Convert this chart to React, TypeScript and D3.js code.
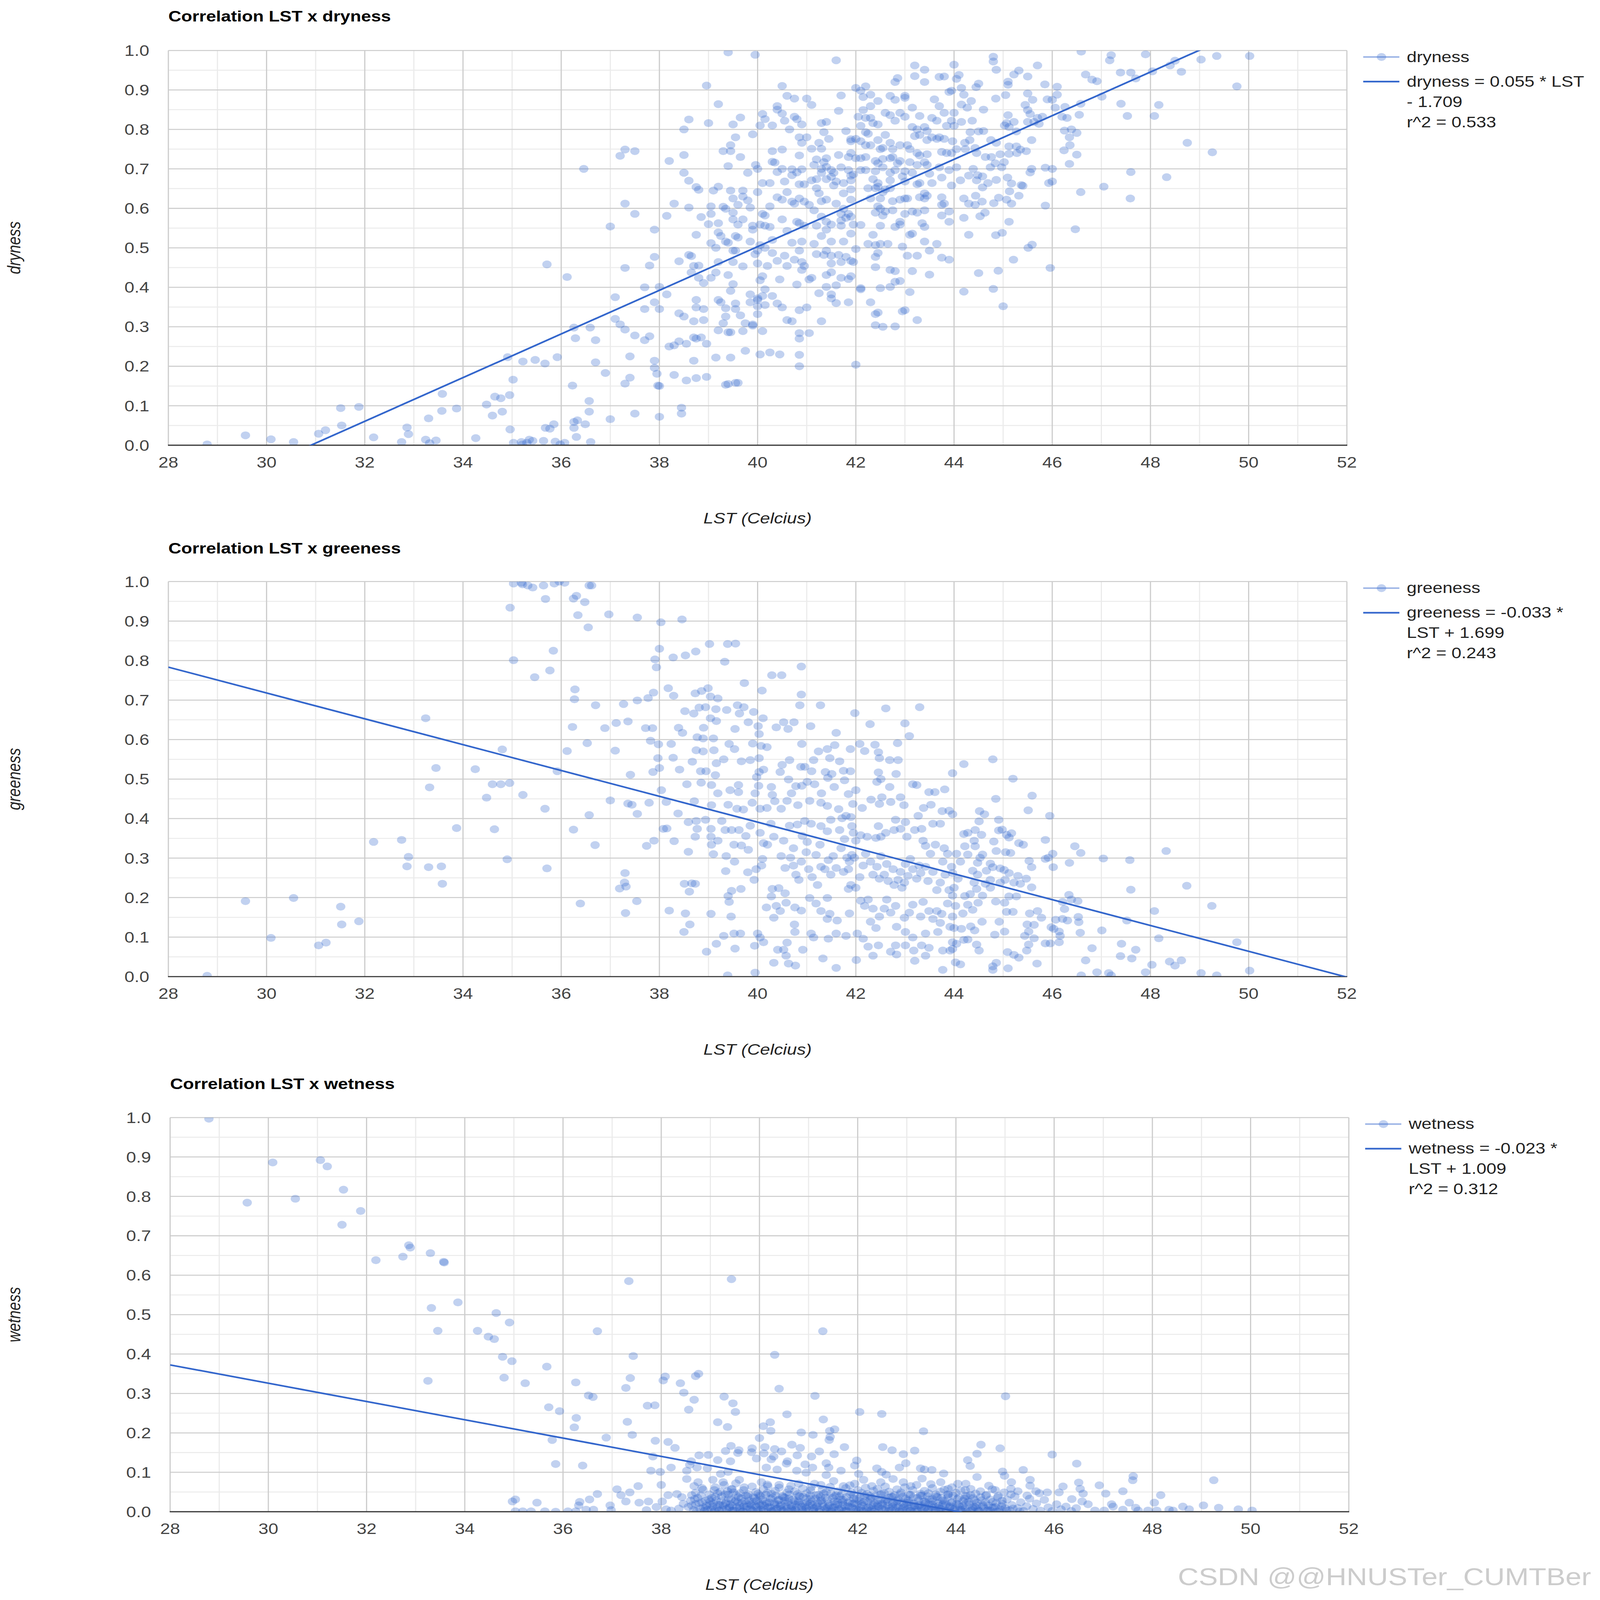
// Three LST correlation scatter charts (dryness / greeness / wetness) with linear trendlines.
import React from "react";
import * as d3 from "d3";

type Pt = [number, number];

// ── Axis ticks ────────────────────────────────────────────────────────────────
const X_TICKS = [28, 30, 32, 34, 36, 38, 40, 42, 44, 46, 48, 50, 52];
const Y_TICKS = [0, 0.1, 0.2, 0.3, 0.4, 0.5, 0.6, 0.7, 0.8, 0.9, 1.0];

// ── Series names, trendline fit (as drawn), legend text ──────────────────────
const SERIES = ["dryness", "greeness", "wetness"];
const TREND_SLOPE = [0.0553, -0.0327, -0.0232];
const TREND_INTERCEPT = [-1.709, 1.699, 1.022];
const LEGEND_TEXT = [
  ["dryness = 0.055 * LST", "- 1.709", "r^2 = 0.533"],
  ["greeness = -0.033 *", "LST + 1.699", "r^2 = 0.243"],
  ["wetness = -0.023 *", "LST + 1.009", "r^2 = 0.312"],
];

// ── dryness points [LST, value] ──────────────────────────────────────────────
const DRYNESS_LOW: Pt[] = [
  [28.79,0.002],[29.57,0.025],[30.09,0.015],[30.55,0.008],[31.06,0.029],[31.2,0.038],[31.51,0.094],[31.88,0.097],
  [31.53,0.05],[32.18,0.02],[32.75,0.008],[32.86,0.045],[32.89,0.028],[33.24,0.014],[33.32,0.005],[33.45,0.012],
  [33.3,0.068],[33.57,0.087],[33.58,0.13],[33.87,0.093],[34.26,0.018],[34.48,0.103],[34.6,0.075],[34.8,0.085],
  [34.65,0.123],[34.77,0.119],[34.95,0.127],[34.91,0.223],[35.02,0.166],[34.96,0.04],[35.03,0.006],[35.19,0.008],
  [35.21,0.002],[35.35,0.014],[35.42,0.011],[35.3,0.006],[35.22,0.212],[35.47,0.216],[35.67,0.207],[35.92,0.223],
  [35.71,0.458],[36.12,0.426],[35.68,0.044],[35.77,0.042],[35.85,0.053],[35.64,0.011],[35.88,0.009],[35.98,0.002],
  [36.07,0.006],[36.23,0.151],[36.26,0.298],[36.29,0.271],[36.26,0.059],[36.33,0.063],[36.26,0.044],[36.31,0.021],
  [36.49,0.053],[36.57,0.112],[36.57,0.085],[36.59,0.298],[36.6,0.008],
  [36.46,0.70],[37.0,0.554],[36.7,0.266],[36.7,0.21],[36.9,0.183],[37.0,0.066],[37.1,0.375],[37.1,0.32],
  [37.2,0.733],[37.3,0.749],[37.5,0.745],[37.3,0.612],[37.5,0.586],[37.3,0.449],[37.8,0.455],[37.9,0.477],
  [37.7,0.40],[37.9,0.546],[37.2,0.306],[37.3,0.293],[37.5,0.278],[37.7,0.266],[37.8,0.276],[37.7,0.345],
  [37.9,0.362],[37.4,0.225],[37.9,0.214],[37.9,0.196],[37.4,0.171],[37.3,0.156],[37.5,0.08],[37.95,0.181],[37.97,0.151],
];
const DRYNESS_MID: Pt[] = [
  [38.2,0.72],[38.5,0.80],[38.6,0.825],[38.5,0.735],[38.5,0.69],[38.6,0.67],[38.75,0.654],[38.8,0.647],[38.3,0.612],
  [38.6,0.602],[38.15,0.581],[38.85,0.578],[38.0,0.401],[38.15,0.382],[38.0,0.345],[38.4,0.466],[38.6,0.482],
  [38.65,0.479],[38.75,0.533],[38.7,0.454],[38.8,0.455],[38.65,0.4375],[38.8,0.424],[38.9,0.411],[38.75,0.368],
  [38.75,0.349],[38.9,0.345],[38.4,0.334],[38.5,0.326],[38.7,0.314],[38.9,0.317],[38.7,0.273],[38.75,0.27],
  [38.85,0.273],[38.96,0.257],[38.2,0.25],[38.3,0.253],[38.4,0.263],[38.55,0.257],[38.7,0.214],[38.3,0.178],
  [38.55,0.164],[38.75,0.17],[38.96,0.173],[38.0,0.15],[38.45,0.095],[38.45,0.08],[38.0,0.072],[38.96,0.911],
  [39.0,0.816],[39.2,0.864],
  [39.4,0.995],[39.95,0.989],[39.5,0.8125],[39.65,0.83],[39.55,0.78],[39.45,0.76],[39.3,0.745],[39.45,0.745],
  [39.65,0.73],[39.4,0.707],[39.9,0.7875],[39.8,0.69],[39.96,0.71],[40.0,0.70],[39.2,0.655],[39.1,0.645],
  [39.45,0.645],[39.7,0.645],[39.7,0.63],[39.5,0.625],[39.8,0.62],[39.05,0.605],[39.3,0.604],[39.35,0.599],
  [39.6,0.609],[39.85,0.602],[39.5,0.589],[39.05,0.586],[39.0,0.56],[39.2,0.5625],[39.5,0.572],[39.7,0.572],
  [39.6,0.559],[39.2,0.539],[39.25,0.53],[39.55,0.53],[39.6,0.526],[39.9,0.556],[39.9,0.546],[39.35,0.516],
  [39.4,0.513],[39.05,0.512],[39.15,0.50],[39.85,0.516],[39.5,0.493],[39.55,0.493],[39.2,0.464],[39.5,0.464],
  [39.7,0.453],[39.4,0.431],[39.5,0.408],[39.05,0.424],[39.15,0.4375],[39.45,0.391],[39.2,0.368],[39.25,0.362],
  [39.55,0.359],[39.55,0.345],[39.35,0.347],[39.35,0.326],[39.65,0.329],[39.75,0.309],[39.9,0.306],[39.85,0.362],
  [40.0,0.372],[39.85,0.382],[39.3,0.309],[39.2,0.291],[39.4,0.286],[39.45,0.286],[39.7,0.289],[39.15,0.222],
  [39.45,0.222],[39.75,0.239],[39.35,0.153],[39.4,0.155],[39.55,0.158],[39.6,0.158],[40.0,0.332],[39.9,0.303],
  [40.5,0.91],[40.6,0.885],[40.75,0.878],[40.4,0.859],[40.4,0.85],[40.5,0.84],[40.1,0.839],[40.15,0.826],
  [40.05,0.81],[40.3,0.81],[40.55,0.822],[40.75,0.832],[40.8,0.826],[40.9,0.8125],[40.65,0.80],[41.0,0.878],
  [41.1,0.862],[40.3,0.745],[40.5,0.749],[40.85,0.78],[40.9,0.766],[41.0,0.78],[40.85,0.734],[40.3,0.718],
  [40.35,0.716],[40.4,0.692],[40.5,0.70],[40.7,0.699],[40.8,0.691],[40.9,0.699],[40.1,0.664],[40.25,0.664],
  [40.55,0.668],[40.7,0.684],[40.85,0.661],[40.95,0.661],[40.0,0.641],[40.25,0.605],[40.4,0.628],[40.5,0.622],
  [40.6,0.641],[40.7,0.617],[40.75,0.612],[40.85,0.625],[40.95,0.617],[40.1,0.586],[40.15,0.582],[40.5,0.572],
  [40.8,0.566],[40.85,0.5625],[40.05,0.559],[40.15,0.556],[40.25,0.553],[40.6,0.543],[40.95,0.556],[40.3,0.52],
  [40.7,0.513],[40.9,0.516],[40.05,0.507],[40.0,0.493],[40.15,0.50],[40.3,0.487],[39.95,0.484],[40.55,0.48],
  [40.85,0.493],[40.0,0.4605],[40.2,0.454],[40.4,0.467],[40.6,0.454],[40.75,0.47],[40.9,0.464],[40.95,0.454],
  [40.9,0.444],[40.1,0.428],[40.45,0.42],[40.05,0.418],[40.15,0.395],[40.3,0.378],[40.1,0.378],[40.0,0.368],
  [40.8,0.407],[41.05,0.42],[40.15,0.355],[40.4,0.359],[40.5,0.349],[40.0,0.352],[40.6,0.317],[40.7,0.314],
  [40.85,0.342],[41.0,0.349],[40.1,0.289],[40.85,0.284],[40.85,0.27],[41.05,0.284],[40.05,0.23],[40.25,0.235],
  [40.45,0.23],[40.85,0.229],[40.85,0.20],
  [41.6,0.975],[41.7,0.886],[41.65,0.847],[42.0,0.905],[42.1,0.898],[42.2,0.909],[41.3,0.816],[41.4,0.819],
  [41.35,0.793],[41.45,0.776],[41.25,0.766],[41.1,0.751],[41.3,0.751],[41.8,0.796],[41.9,0.775],[41.9,0.77],
  [42.0,0.776],[41.65,0.735],[41.9,0.74],[41.85,0.73],[42.0,0.727],[41.2,0.724],[41.35,0.717],[41.4,0.727],
  [41.15,0.71],[41.3,0.70],[41.4,0.705],[41.5,0.697],[41.55,0.69],[41.7,0.704],[41.85,0.697],[41.9,0.683],
  [41.95,0.686],[41.3,0.69],[41.1,0.671],[41.2,0.674],[41.4,0.674],[41.5,0.68],[41.6,0.668],[41.75,0.664],
  [41.9,0.671],[41.2,0.651],[41.25,0.638],[41.4,0.622],[41.3,0.618],[41.05,0.609],[41.15,0.595],[41.55,0.658],
  [41.75,0.638],[41.9,0.648],[41.9,0.622],[41.6,0.612],[41.75,0.599],[41.7,0.586],[41.85,0.586],[41.9,0.579],
  [41.8,0.576],[41.7,0.569],[41.3,0.579],[41.4,0.566],[41.5,0.559],[41.2,0.556],[41.4,0.546],[41.7,0.556],
  [41.95,0.559],[42.1,0.558],[41.3,0.53],[41.5,0.516],[41.75,0.516],[41.9,0.536],[42.0,0.497],[41.15,0.51],
  [41.4,0.493],[41.5,0.48],[41.35,0.482],[41.2,0.484],[41.65,0.482],[41.8,0.477],[41.7,0.464],[41.9,0.467],
  [41.95,0.464],[41.5,0.4605],[41.5,0.438],[41.4,0.431],[41.7,0.424],[41.85,0.421],[41.9,0.428],[41.1,0.424],
  [41.4,0.401],[41.6,0.405],[42.1,0.398],[41.25,0.385],[41.5,0.382],[41.5,0.372],[41.6,0.36],[41.85,0.362],
  [41.3,0.314],[42.0,0.204],
];
const DRYNESS_HIGH: Pt[] = [
  [42.8,0.92],[42.85,0.93],[42.7,0.885],[42.8,0.875],[43.0,0.885],[43.0,0.88],[42.3,0.888],[42.45,0.872],
  [42.15,0.882],[42.3,0.859],[42.15,0.849],[42.05,0.832],[42.2,0.829],[42.3,0.829],[42.35,0.816],[42.45,0.8125],
  [42.6,0.842],[42.7,0.836],[42.8,0.822],[42.9,0.842],[43.0,0.832],[42.1,0.809],[42.2,0.793],[42.25,0.789],
  [42.6,0.786],[42.7,0.766],[42.1,0.77],[42.2,0.76],[42.3,0.76],[42.45,0.773],[42.5,0.75],[42.55,0.753],
  [42.75,0.75],[42.9,0.76],[42.1,0.727],[42.2,0.73],[42.4,0.72],[42.45,0.714],[42.55,0.725],[42.7,0.727],
  [42.75,0.73],[42.85,0.714],[42.9,0.72],[42.1,0.697],[42.2,0.697],[42.4,0.694],[42.55,0.704],[42.7,0.69],
  [42.8,0.697],[43.0,0.694],[42.35,0.674],[42.45,0.664],[42.7,0.671],[42.95,0.681],[43.0,0.668],[42.25,0.651],
  [42.4,0.651],[42.45,0.655],[42.6,0.648],[42.7,0.651],[42.55,0.641],[42.3,0.625],[42.5,0.625],[42.75,0.618],
  [42.9,0.622],[43.0,0.625],[42.45,0.605],[42.5,0.599],[42.6,0.592],[42.75,0.595],[42.4,0.589],[42.55,0.582],
  [43.0,0.586],[42.9,0.566],[42.5,0.556],[42.8,0.553],[42.9,0.559],[42.35,0.533],[42.25,0.51],[42.4,0.507],
  [42.5,0.51],[42.65,0.51],[42.45,0.487],[42.4,0.477],[42.95,0.503],[42.4,0.451],[42.7,0.444],[42.8,0.441],
  [42.8,0.414],[42.5,0.398],[42.7,0.401],[42.1,0.395],[42.3,0.362],[43.0,0.342],[42.45,0.336],[42.4,0.332],
  [42.4,0.304],[42.55,0.30],[42.8,0.301],
  [43.2,0.962],[43.4,0.951],[43.4,0.92],[43.2,0.935],[43.7,0.933],[43.8,0.934],[44.0,0.964],[44.05,0.928],
  [44.1,0.938],[43.6,0.876],[43.7,0.859],[43.15,0.855],[43.3,0.834],[43.9,0.895],[43.95,0.898],[44.15,0.905],
  [43.55,0.829],[43.65,0.822],[43.8,0.842],[43.95,0.822],[43.15,0.806],[43.25,0.80],[43.4,0.806],[43.45,0.796],
  [43.85,0.809],[44.0,0.809],[43.2,0.783],[43.3,0.786],[43.45,0.773],[43.55,0.78],[43.65,0.776],[43.7,0.78],
  [43.8,0.776],[43.05,0.76],[43.1,0.75],[43.25,0.74],[43.3,0.734],[43.45,0.737],[43.75,0.743],[43.85,0.74],
  [43.95,0.74],[44.05,0.75],[43.1,0.717],[43.25,0.71],[43.4,0.717],[43.45,0.71],[43.7,0.704],[43.9,0.697],
  [44.05,0.704],[43.15,0.69],[43.3,0.664],[43.25,0.661],[43.5,0.6875],[43.55,0.664],[43.75,0.678],[43.95,0.658],
  [43.4,0.638],[43.3,0.628],[43.4,0.625],[43.45,0.632],[43.75,0.628],[43.8,0.612],[43.75,0.609],[43.05,0.625],
  [43.15,0.592],[43.25,0.589],[43.4,0.595],[43.9,0.592],[43.75,0.582],[43.9,0.566],[43.35,0.5625],[43.4,0.553],
  [43.15,0.536],[43.1,0.533],[43.4,0.516],[43.65,0.51],[43.5,0.493],[43.25,0.48],[43.05,0.48],[43.75,0.475],
  [43.9,0.47],[43.15,0.441],[43.5,0.432],[43.1,0.388],[42.9,0.416],[42.95,0.339],[43.25,0.317],[44.2,0.389],
  [44.2,0.625],[44.3,0.612],[44.3,0.533],[44.2,0.576],
  [44.8,0.984],[44.8,0.972],[44.86,0.951],[45.7,0.962],[45.32,0.949],[45.22,0.939],[45.5,0.934],[44.5,0.916],
  [44.45,0.907],[45.1,0.921],[45.1,0.913],[45.85,0.914],[46.1,0.908],[44.2,0.888],[44.85,0.878],[45.05,0.887],
  [45.5,0.891],[45.6,0.875],[46.1,0.888],[45.9,0.876],[46.0,0.875],[44.15,0.863],[44.27,0.855],[44.35,0.872],
  [44.6,0.85],[45.45,0.862],[45.5,0.849],[46.06,0.855],[46.26,0.857],[45.55,0.839],[45.1,0.836],[45.7,0.829],
  [45.8,0.832],[46.2,0.832],[46.3,0.829],[46.55,0.837],[44.0,0.842],[44.37,0.822],[44.15,0.819],[45.07,0.816],
  [45.22,0.819],[45.03,0.81],[45.12,0.806],[45.5,0.819],[45.63,0.819],[45.73,0.814],[44.33,0.793],[44.5,0.795],
  [44.6,0.796],[45.27,0.795],[46.25,0.797],[46.39,0.80],[46.5,0.791],[46.35,0.78],[44.75,0.773],[44.22,0.766],
  [44.32,0.773],[45.58,0.773],[43.97,0.77],[44.23,0.75],[44.43,0.753],[44.46,0.74],[44.64,0.73],[44.76,0.73],
  [44.86,0.766],[44.94,0.737],[45.12,0.757],[45.12,0.738],[45.28,0.74],[45.35,0.749],[45.47,0.745],[45.27,0.757],
  [44.39,0.70],[44.48,0.684],[44.58,0.681],[44.74,0.704],[44.84,0.714],[44.97,0.704],[45.02,0.717],[44.3,0.683],
  [44.13,0.671],[44.46,0.671],[44.69,0.664],[44.86,0.672],[45.09,0.678],[45.17,0.663],[45.37,0.659],[45.4,0.657],
  [45.55,0.691],[45.58,0.70],[45.86,0.703],[46.0,0.70],[45.93,0.664],[46.0,0.668],[44.58,0.653],[45.13,0.643],
  [44.43,0.609],[44.44,0.632],[44.57,0.617],[44.81,0.613],[44.91,0.627],[45.07,0.622],[45.17,0.612],[45.32,0.632],
  [44.53,0.58],[44.63,0.589],[45.12,0.566],[45.86,0.607],[44.85,0.532],[44.98,0.538],[45.51,0.50],[45.59,0.508],
  [45.21,0.47],[44.5,0.436],[44.9,0.442],[45.96,0.449],[44.8,0.396],[45.0,0.352],[46.36,0.76],[46.24,0.747],
  [46.5,0.736],[46.35,0.7125],[46.59,0.997],[46.68,0.939],[46.81,0.926],[46.91,0.922],[47.2,0.988],[47.17,0.975],
  [47.39,0.944],[47.6,0.944],[47.7,0.929],[47.9,0.99],[48.04,0.947],[48.4,0.962],[48.5,0.974],[48.63,0.946],
  [49.03,0.977],[49.35,0.986],[50.02,0.986],[49.76,0.909],[47.01,0.883],[47.4,0.865],[47.53,0.834],[48.17,0.862],
  [48.08,0.834],[46.58,0.865],[48.75,0.766],[49.26,0.742],[47.6,0.692],[48.33,0.679],[47.05,0.655],[46.58,0.641],
  [47.59,0.625],[46.47,0.547],
];

// ── greeness points [LST, value] ─────────────────────────────────────────────
const GREENESS_LOW: Pt[] = [
  [28.79,0.002],[29.57,0.191],[30.55,0.199],[30.09,0.098],[31.06,0.079],[31.21,0.086],[31.51,0.177],[31.53,0.132],
  [31.88,0.14],[32.18,0.341],[32.75,0.346],[32.89,0.303],[32.86,0.279],[33.3,0.277],[33.56,0.279],[33.58,0.235],
  [33.24,0.654],[33.45,0.528],[33.32,0.479],[33.87,0.376],[34.25,0.525],[34.48,0.453],[34.6,0.487],[34.77,0.487],
  [34.95,0.49],[34.64,0.373],[34.8,0.575],[34.9,0.297],[35.22,0.46],[35.67,0.425],[35.71,0.274],[36.25,0.372],
  [35.92,0.52],[36.12,0.571],[36.23,0.632],[36.53,0.591],[36.57,0.409],[36.39,0.185],[36.27,0.702],[36.28,0.727],
  [35.46,0.758],[35.77,0.775],[35.03,0.801],[35.84,0.825],[34.96,0.934],[35.03,0.995],[35.19,0.997],[35.21,0.993],
  [35.32,0.99],[35.42,0.985],[35.64,0.99],[35.86,0.995],[35.96,1.0],[36.07,0.997],[35.68,0.956],[36.25,0.957],
  [36.31,0.964],[36.48,0.948],[36.34,0.915],[36.55,0.884],[36.57,0.99],
  [36.62,0.99],[36.97,0.917],[37.55,0.909],[38.03,0.897],[38.46,0.904],[38.0,0.83],[37.91,0.803],[37.94,0.783],
  [38.28,0.808],[38.53,0.813],[38.74,0.823],[39.02,0.842],[39.39,0.842],[39.55,0.843],[39.33,0.797],[39.73,0.743],
  [40.29,0.763],[40.49,0.763],[40.89,0.785],[40.09,0.724],[40.89,0.714],[40.86,0.687],[41.28,0.687],[41.98,0.667],
  [42.61,0.679],[43.3,0.682],[42.29,0.639],[43.0,0.641],[43.09,0.609],
  [36.7,0.687],[37.27,0.69],[37.55,0.699],[37.77,0.705],[37.88,0.719],[38.18,0.73],[38.29,0.711],[38.73,0.717],
  [38.86,0.723],[38.99,0.73],[39.04,0.709],[39.19,0.704],[38.52,0.672],[38.7,0.666],[38.81,0.681],[38.94,0.682],
  [39.15,0.677],[39.37,0.675],[39.59,0.687],[39.72,0.682],[39.92,0.67],[39.63,0.666],[39.04,0.654],[39.16,0.647],
  [40.11,0.654],[39.81,0.644],[40.01,0.634],[40.38,0.631],[40.53,0.644],[40.74,0.644],[40.62,0.627],[41.08,0.634],
  [41.6,0.617],[40.03,0.614],[36.89,0.629],[37.12,0.642],[37.36,0.646],[37.72,0.629],[37.86,0.629],[38.39,0.63],
  [38.47,0.617],[38.9,0.63],[39.54,0.627],
  [37.1,0.572],[37.82,0.597],[37.98,0.588],[38.24,0.589],[38.77,0.606],[38.89,0.603],[39.1,0.603],[38.75,0.573],
  [38.89,0.57],[39.11,0.573],[39.42,0.589],[39.53,0.576],[39.9,0.59],[40.07,0.584],[40.19,0.581],[40.9,0.589],
  [41.24,0.57],[41.42,0.576],[41.57,0.586],[41.89,0.576],[42.08,0.589],[42.18,0.571],[42.39,0.587],[42.46,0.568],
  [42.85,0.591],
];
const GREENESS_MID: Pt[] = [
  [37.97,0.553],[38.28,0.554],[38.67,0.544],[39.16,0.54],[39.31,0.55],[39.67,0.545],[39.85,0.548],[40.03,0.553],
  [40.65,0.548],[41.14,0.548],[41.47,0.553],[41.67,0.545],[42.48,0.553],[42.69,0.548],[42.86,0.548],
  [37.41,0.511],[37.87,0.518],[38.0,0.528],[38.41,0.524],[38.84,0.52],[38.95,0.52],[39.14,0.51],[39.98,0.505],
  [40.03,0.518],[40.12,0.524],[40.5,0.536],[40.46,0.518],[40.88,0.531],[40.96,0.531],[41.1,0.52],[41.38,0.518],
  [41.75,0.521],[41.89,0.52],[42.46,0.517],[42.82,0.513],
  [38.56,0.487],[38.85,0.491],[39.06,0.485],[39.61,0.485],[40.02,0.483],[40.28,0.48],[40.63,0.499],[40.78,0.482],
  [40.9,0.483],[41.01,0.493],[41.16,0.487],[41.43,0.503],[41.51,0.513],[41.77,0.497],[42.43,0.493],[42.51,0.5],
  [42.69,0.48],[43.16,0.487],[43.24,0.485],
  [37.0,0.446],[37.36,0.438],[37.44,0.435],[37.79,0.44],[38.04,0.472],[38.14,0.442],[38.71,0.444],[39.19,0.464],
  [39.44,0.472],[39.61,0.467],[39.95,0.464],[40.3,0.46],[40.69,0.464],[41.3,0.464],[41.56,0.48],[41.85,0.462],
  [42.0,0.472],[42.91,0.454],[43.49,0.467],[43.61,0.467],[43.81,0.474],
  [37.55,0.412],[38.38,0.413],[39.06,0.434],[39.4,0.435],[39.58,0.425],[39.71,0.423],[39.89,0.44],[40.05,0.425],
  [40.19,0.427],[40.35,0.444],[40.48,0.425],[40.6,0.445],[40.82,0.434],[41.06,0.445],[41.29,0.44],[41.42,0.432],
  [41.65,0.424],[41.94,0.437],[42.13,0.427],[42.31,0.448],[42.48,0.437],[42.53,0.454],[42.71,0.442],[42.98,0.434],
  [43.38,0.427],[43.53,0.435],[43.76,0.419],[43.9,0.42],
  [36.69,0.333],[37.74,0.331],[37.89,0.344],[38.08,0.374],[38.15,0.375],[38.3,0.343],[38.59,0.316],[38.59,0.391],
  [38.75,0.394],[38.77,0.374],[38.73,0.354],[38.94,0.397],[39.05,0.374],[39.05,0.354],[39.06,0.334],[39.1,0.31],
  [39.19,0.344],[39.27,0.394],[39.34,0.371],[39.47,0.371],[39.52,0.334],[39.62,0.371],[39.67,0.332],[39.76,0.356],
  [39.81,0.321],[39.36,0.305],[39.53,0.291],[39.35,0.267],[39.85,0.382],[40.05,0.364],[40.12,0.338],[40.2,0.334],
  [40.27,0.387],[40.33,0.354],[40.53,0.344],[40.65,0.382],[40.73,0.325],[40.81,0.385],[40.96,0.394],[40.91,0.356],
  [41.01,0.341],[41.09,0.387],[41.27,0.334],[41.29,0.381],[41.42,0.368],[41.49,0.397],[41.67,0.371],[41.72,0.401],
  [41.8,0.407],[41.9,0.404],[41.92,0.381],[41.95,0.364],[41.77,0.348],[42.0,0.344],[42.1,0.358],[42.23,0.354],
  [42.41,0.351],[42.46,0.381],[42.51,0.354],[42.61,0.364],[42.78,0.371],[42.81,0.397],[42.91,0.374],[43.01,0.391],
  [43.04,0.354],[43.2,0.371],[43.27,0.407],[43.34,0.374],[43.37,0.344],[43.57,0.387],[43.72,0.387],[43.42,0.331],
  [43.62,0.334],[43.8,0.325],[43.87,0.311],
  [38.66,0.236],[38.51,0.235],[38.61,0.215],[38.73,0.235],[37.3,0.262],[37.29,0.238],[37.19,0.223],[37.32,0.228],
  [37.54,0.191],[37.31,0.161],[38.2,0.167],[38.53,0.16],[38.62,0.132],[38.5,0.113],[39.05,0.159],[39.46,0.152],
  [39.42,0.189],[39.4,0.204],[39.47,0.217],[39.66,0.222],[39.8,0.264],[39.93,0.245],[39.97,0.272],[40.08,0.281],
  [40.1,0.298],[40.3,0.222],[40.43,0.224],[40.28,0.203],[40.56,0.211],[40.48,0.305],[40.56,0.275],[40.67,0.301],
  [40.73,0.281],[40.78,0.258],[40.84,0.245],[40.89,0.291],[40.99,0.315],[41.04,0.272],[41.11,0.252],[41.19,0.308],
  [41.22,0.232],[41.29,0.278],[41.37,0.272],[41.44,0.295],[41.49,0.258],[41.54,0.305],[41.6,0.275],[41.7,0.325],
  [41.75,0.265],[41.82,0.301],[41.87,0.291],[41.92,0.308],[41.97,0.301],[41.85,0.272],[41.9,0.232],[41.85,0.222],
  [42.0,0.225],[42.08,0.252],[42.15,0.281],[42.2,0.311],[42.3,0.291],[42.35,0.258],[42.43,0.278],[42.48,0.248],
  [42.51,0.305],[42.58,0.258],[42.63,0.285],[42.66,0.242],[42.76,0.272],[42.78,0.232],[42.86,0.245],[42.91,0.265],
  [42.94,0.225],[42.99,0.238],[43.01,0.285],[43.06,0.255],[43.11,0.298],[43.16,0.272],[43.24,0.248],[43.29,0.281],
  [43.32,0.262],[43.42,0.278],[43.47,0.242],[43.52,0.311],[43.57,0.265],[43.65,0.219],[43.72,0.238],[43.77,0.291],
  [43.82,0.258],[43.9,0.219],[43.95,0.278],
  [40.18,0.175],[40.33,0.149],[40.38,0.179],[40.46,0.166],[40.58,0.187],[40.76,0.175],[40.89,0.167],[40.75,0.132],
  [40.76,0.113],[41.06,0.199],[41.19,0.185],[41.29,0.166],[41.42,0.199],[41.47,0.159],[41.42,0.146],[41.62,0.142],
  [41.87,0.16],[42.1,0.192],[42.18,0.179],[42.25,0.195],[42.3,0.139],[42.35,0.172],[42.41,0.123],[42.48,0.152],
  [42.58,0.172],[42.63,0.195],[42.71,0.162],[42.81,0.179],[42.83,0.126],[42.99,0.149],[43.01,0.113],[43.09,0.162],
  [43.16,0.182],[43.32,0.152],[43.37,0.189],[43.42,0.109],[43.49,0.166],[43.57,0.146],[43.65,0.166],[43.72,0.136],
  [43.75,0.159],[43.67,0.113],[43.87,0.185],[43.92,0.126],
  [39.31,0.103],[39.52,0.109],[39.65,0.109],[39.16,0.083],[38.96,0.063],[39.54,0.071],[40.0,0.109],[40.05,0.099],
  [40.12,0.087],[39.94,0.078],[40.41,0.068],[40.53,0.068],[40.6,0.086],[40.58,0.053],[40.33,0.035],[40.63,0.033],
  [40.77,0.028],[40.92,0.068],[41.09,0.109],[41.14,0.099],[41.33,0.046],[41.44,0.096],[41.6,0.109],[41.8,0.103],
  [41.6,0.022],[42.03,0.109],[42.15,0.096],[42.25,0.076],[42.35,0.053],[42.46,0.079],[42.01,0.042],[42.71,0.063],
  [42.83,0.056],[42.81,0.079],[43.01,0.079],[43.18,0.066],[43.2,0.04],[43.16,0.099],[43.34,0.079],[43.42,0.053],
  [43.49,0.073],[43.77,0.066],[43.92,0.066],[43.77,0.017],[39.39,0.003],[39.95,0.01],
];
const GREENESS_HIGH: Pt[] = [
  [44.79,0.55],[44.2,0.538],[43.97,0.515],[45.2,0.501],[45.59,0.458],[44.85,0.45],[45.51,0.421],[45.95,0.407],
  [44.52,0.419],[44.62,0.411],[43.97,0.411],[44.51,0.393],[44.91,0.397],[44.43,0.371],[44.2,0.361],[44.28,0.364],
  [44.56,0.359],[44.91,0.37],[44.98,0.372],[45.07,0.359],[45.17,0.363],[45.12,0.352],[44.81,0.342],[44.41,0.344],
  [44.43,0.33],[44.22,0.33],[45.32,0.338],[45.41,0.334],[45.86,0.346],[46.46,0.33],[46.58,0.313],[47.04,0.299],
  [47.58,0.295],[48.32,0.318],[44.05,0.311],[44.28,0.309],[44.58,0.309],[44.86,0.318],[45.05,0.315],[45.15,0.313],
  [46.01,0.311],[45.86,0.298],[45.92,0.301],[45.53,0.293],[45.58,0.277],[46.02,0.277],[46.35,0.288],[44.13,0.291],
  [44.48,0.288],[44.53,0.301],[44.74,0.286],[44.79,0.277],[44.94,0.274],[45.02,0.27],[43.97,0.262],[44.38,0.268],
  [44.48,0.258],[44.66,0.268],[45.12,0.262],[45.3,0.255],[45.47,0.248],[44.08,0.248],[44.41,0.238],[44.74,0.245],
  [44.64,0.235],[44.94,0.238],[45.04,0.245],[45.22,0.238],[45.35,0.235],[44.0,0.225],[44.46,0.222],[44.74,0.225],
  [45.58,0.226],[47.6,0.22],[48.74,0.23],[46.34,0.207],[46.21,0.189],[46.39,0.195],[46.52,0.191],[46.25,0.171],
  [49.25,0.179],[43.97,0.205],[44.22,0.204],[44.33,0.209],[44.58,0.205],[45.12,0.203],[45.27,0.203],[44.03,0.179],
  [44.28,0.182],[44.49,0.187],[44.85,0.19],[45.03,0.187],[44.38,0.169],[44.18,0.16],[45.07,0.164],[45.2,0.164],
  [45.54,0.16],[45.7,0.166],[45.78,0.149],[45.63,0.131],[45.49,0.132],[46.07,0.144],[46.21,0.146],[46.31,0.142],
  [46.53,0.151],[46.54,0.138],[48.08,0.166],[47.52,0.142],[43.97,0.152],[44.0,0.123],[44.15,0.121],[44.34,0.127],
  [44.42,0.117],[44.57,0.139],[44.92,0.139],[44.83,0.106],[45.03,0.114],[45.44,0.103],[45.52,0.114],[45.63,0.097],
  [45.98,0.125],[46.03,0.121],[46.14,0.114],[46.16,0.103],[46.57,0.111],[47.01,0.117],[48.17,0.097],[49.76,0.087],
  [43.97,0.087],[44.05,0.083],[44.2,0.093],[44.28,0.094],[44.46,0.081],[44.51,0.066],[43.97,0.07],[45.09,0.062],
  [45.22,0.055],[45.32,0.048],[45.48,0.066],[45.52,0.081],[45.86,0.084],[45.96,0.084],[46.14,0.087],[46.81,0.072],
  [47.41,0.083],[47.7,0.068],[47.39,0.052],[47.62,0.046],[46.68,0.041],[44.03,0.036],[44.13,0.031],[44.79,0.026],
  [44.86,0.035],[44.79,0.017],[45.1,0.021],[45.69,0.033],[46.59,0.003],[46.91,0.011],[47.15,0.009],[47.2,0.003],
  [47.9,0.011],[48.03,0.03],[48.39,0.038],[48.5,0.028],[48.63,0.041],[49.03,0.009],[49.35,0.003],[50.02,0.015],
];

// ── wetness points [LST, value] ──────────────────────────────────────────────
const WETNESS_LOW: Pt[] = [
  [28.79,0.997],[30.09,0.886],[29.57,0.784],[30.55,0.794],[31.06,0.892],[31.2,0.876],[31.53,0.817],[31.5,0.728],
  [31.88,0.763],[32.19,0.638],[32.74,0.647],[32.86,0.676],[32.89,0.67],[33.3,0.656],[33.57,0.634],[33.58,0.632],
  [33.32,0.517],[33.86,0.531],[33.45,0.459],[33.25,0.332],[34.26,0.459],[34.48,0.444],[34.6,0.438],[34.64,0.504],
  [34.91,0.48],[34.77,0.393],[34.96,0.382],[34.8,0.34],[35.23,0.326],[35.67,0.368],[36.26,0.328],[36.52,0.295],
  [35.71,0.265],[35.93,0.255],[36.27,0.238],[36.23,0.214],[35.78,0.182],[35.85,0.121],[36.4,0.117],[34.97,0.026],
  [35.03,0.031],[35.47,0.023],[35.03,0.001],[35.18,0.001],[35.35,0.001],[35.63,0.001],[35.85,0.0],[36.1,0.001],
  [36.26,0.001],[36.34,0.025],[36.54,0.031],[36.32,0.016],
];
const WETNESS_MID: Pt[] = [
  [36.7,0.458],[41.29,0.458],[37.43,0.395],[40.31,0.398],[37.37,0.339],[37.28,0.314],[38.08,0.343],[38.04,0.333],
  [38.39,0.326],[38.7,0.344],[38.76,0.35],[38.46,0.302],[38.67,0.284],[38.56,0.259],[36.61,0.291],[37.72,0.269],
  [37.87,0.27],[39.28,0.292],[39.46,0.275],[39.51,0.253],[40.4,0.312],[41.13,0.294],[40.56,0.247],[37.31,0.228],
  [37.41,0.195],[36.88,0.188],[37.88,0.18],[38.14,0.177],[38.28,0.162],[37.83,0.14],[37.79,0.104],[37.98,0.101],
  [38.2,0.112],[38.0,0.068],[37.53,0.065],[36.7,0.045],[37.1,0.057],[37.18,0.042],[37.36,0.049],[36.96,0.016],
  [37.28,0.026],[36.47,0.005],[36.62,0.005],[36.98,0.004],[37.55,0.023],[37.74,0.026],[38.02,0.026],[38.14,0.042],
  [38.32,0.045],[38.42,0.037],[38.62,0.042],[39.15,0.227],[39.35,0.215],[40.0,0.187],[40.08,0.217],[40.22,0.227],
  [40.23,0.205],[40.85,0.201],[41.09,0.195],[41.3,0.234],[41.43,0.205],[41.53,0.209],[41.44,0.19],[41.42,0.182],
  [41.73,0.164],[42.04,0.253],[42.49,0.248],[43.34,0.204],[42.51,0.164],[42.7,0.156],[42.93,0.146],[43.16,0.155],
  [43.28,0.11],[43.36,0.107],[43.51,0.106],[43.75,0.097],[42.85,0.112],[42.98,0.123],[42.39,0.11],[42.49,0.101],
  [42.58,0.094],[41.98,0.13],[41.94,0.117],[42.02,0.096],[41.66,0.104],[41.41,0.112],[41.36,0.123],[41.36,0.093],
  [41.52,0.146],[41.22,0.153],[41.06,0.14],[41.08,0.112],[40.93,0.12],[40.95,0.099],[40.76,0.104],[40.83,0.162],
  [40.66,0.17],[40.77,0.143],[40.57,0.128],[40.55,0.122],[40.45,0.153],[40.31,0.159],[40.24,0.133],[40.29,0.14],
  [40.11,0.164],[40.09,0.148],[39.94,0.135],[39.85,0.161],[39.84,0.151],[40.14,0.112],[40.36,0.107],[39.56,0.149],
  [39.58,0.156],[39.42,0.167],[39.31,0.154],[39.41,0.128],[39.15,0.131],[38.96,0.144],[38.77,0.143],[38.61,0.128],
  [38.58,0.119],[38.73,0.112],[38.94,0.11],[38.52,0.104],[39.21,0.096],[39.36,0.101],[38.52,0.083],[38.75,0.075],
  [39.05,0.081],[39.26,0.075],[39.59,0.081],[38.67,0.065],[38.83,0.06],[39.08,0.055],[39.43,0.057],[39.69,0.062],
  [40.04,0.075],[40.17,0.065],[40.4,0.068],[40.6,0.057],[40.8,0.071],[41.05,0.062],[41.25,0.068],[41.51,0.078],
  [41.71,0.065],[41.94,0.071],[42.12,0.081],[42.29,0.065],[42.47,0.075],[42.72,0.083],[42.93,0.075],[43.08,0.065],
  [43.31,0.084],[43.49,0.07],[43.69,0.075],[43.84,0.058],[44.04,0.071],[44.19,0.055],[37.34,0.585],[39.43,0.59],
];
const WETNESS_FLOOR: Pt[] = [
  [37.7,0.004],[37.9,0.012],[38.1,0.006],[38.2,0.003],[38.36,0.008],[38.45,0.02],
  [38.55,0.012],[38.6,0.028],[38.66,0.004],[38.7,0.019],[38.74,0.035],[38.79,0.008],[38.83,0.024],[38.88,0.002],
  [38.92,0.015],[38.97,0.031],[39.02,0.006],[39.06,0.021],[39.1,0.038],[39.14,0.011],[39.18,0.003],[39.22,0.027],
  [39.26,0.016],[39.3,0.044],[39.33,0.007],[39.37,0.033],[39.4,0.019],[39.44,0.002],[39.47,0.049],[39.5,0.025],
  [39.54,0.011],[39.57,0.037],[39.61,0.004],[39.64,0.022],[39.68,0.014],[39.72,0.041],[39.75,0.006],[39.79,0.028],
  [39.83,0.017],[39.86,0.002],[39.9,0.034],[39.93,0.012],[39.97,0.046],[39.99,0.021],[40.03,0.005],[40.06,0.031],
  [40.1,0.015],[40.13,0.043],[40.17,0.009],[40.2,0.024],[40.24,0.002],[40.27,0.036],[40.31,0.018],[40.35,0.007],
  [40.38,0.029],[40.42,0.013],[40.46,0.04],[40.49,0.003],[40.53,0.021],[40.56,0.008],[40.6,0.033],[40.64,0.016],
  [40.67,0.002],[40.71,0.027],[40.75,0.011],[40.78,0.045],[40.82,0.019],[40.86,0.005],[40.89,0.038],[40.93,0.014],
  [40.97,0.024],[41.01,0.003],[41.04,0.032],[41.08,0.017],[41.12,0.009],[41.15,0.042],[41.19,0.022],[41.23,0.005],
  [41.26,0.029],[41.3,0.013],[41.34,0.036],[41.37,0.002],[41.41,0.02],[41.45,0.047],[41.48,0.01],[41.52,0.026],
  [41.56,0.004],[41.59,0.018],[41.63,0.039],[41.67,0.008],[41.7,0.03],[41.74,0.014],[41.78,0.002],[41.81,0.023],
  [41.85,0.044],[41.88,0.011],[41.92,0.033],[41.96,0.006],[41.99,0.019],[42.03,0.028],[42.07,0.003],[42.1,0.015],
  [42.14,0.041],[42.18,0.009],[42.21,0.025],[42.25,0.002],[42.29,0.035],[42.32,0.017],[42.36,0.006],[42.4,0.029],
  [42.43,0.012],[42.47,0.043],[42.5,0.021],[42.54,0.004],[42.58,0.031],[42.61,0.016],[42.65,0.008],[42.69,0.038],
  [42.72,0.022],[42.76,0.002],[42.8,0.027],[42.83,0.012],[42.87,0.045],[42.91,0.006],[42.94,0.019],[42.98,0.033],
  [43.02,0.009],[43.05,0.024],[43.09,0.002],[43.13,0.036],[43.16,0.014],[43.2,0.005],[43.24,0.028],[43.27,0.017],
  [43.31,0.041],[43.35,0.008],[43.38,0.022],[43.42,0.003],[43.46,0.031],[43.5,0.012],[43.54,0.026],[43.58,0.004],
  [43.62,0.037],[43.65,0.015],[43.69,0.007],[43.73,0.029],[43.77,0.002],[43.8,0.019],[43.84,0.043],[43.88,0.01],
  [43.92,0.024],[43.96,0.005],[44.03,0.032],[44.07,0.013],[44.11,0.002],[44.15,0.027],[44.19,0.008],[44.23,0.04],
  [44.27,0.018],[44.31,0.004],[44.35,0.034],[44.39,0.011],[44.43,0.023],[44.47,0.002],[44.52,0.029],[44.57,0.009],
  [44.61,0.041],[44.66,0.016],[44.7,0.003],[44.75,0.025],[44.8,0.012],[44.85,0.036],[44.9,0.006],[44.95,0.02],
  [45.04,0.031],[45.09,0.004],[45.14,0.017],[45.2,0.039],[45.26,0.009],[45.32,0.024],[45.38,0.002],[45.44,0.014],
  [45.5,0.033],[45.57,0.007],[45.64,0.021],[45.72,0.003],[45.8,0.03],[45.88,0.011],[45.96,0.002],[46.05,0.019],
  [46.14,0.006],[46.24,0.013],[46.35,0.002],[46.45,0.009],
];
const WETNESS_FLOOR_DENSE: Pt[] = [
  [38.9,0.009],[39.0,0.026],[39.08,0.001],[39.16,0.018],[39.24,0.007],[39.32,0.024],[39.39,0.012],[39.46,0.003],
  [39.52,0.029],[39.59,0.015],[39.66,0.001],[39.73,0.02],[39.81,0.008],[39.88,0.026],[39.95,0.004],[40.01,0.016],
  [40.08,0.001],[40.15,0.022],[40.22,0.011],[40.29,0.003],[40.36,0.019],[40.44,0.006],[40.51,0.028],[40.58,0.002],
  [40.66,0.013],[40.73,0.005],[40.8,0.024],[40.88,0.001],[40.95,0.009],[41.03,0.021],[41.1,0.002],[41.17,0.014],
  [41.25,0.027],[41.32,0.004],[41.39,0.011],[41.47,0.001],[41.54,0.019],[41.61,0.007],[41.69,0.025],[41.76,0.002],
  [41.83,0.012],[41.9,0.021],[41.97,0.001],[42.05,0.01],[42.12,0.024],[42.19,0.004],[42.27,0.015],[42.34,0.001],
  [42.41,0.02],[42.49,0.008],[42.56,0.027],[42.63,0.002],[42.71,0.012],[42.78,0.018],[42.85,0.001],[42.93,0.01],
  [43.0,0.023],[43.07,0.003],[43.15,0.016],[43.22,0.001],[43.29,0.011],[43.37,0.026],[43.44,0.005],[43.52,0.018],
  [43.59,0.001],[43.66,0.009],[43.74,0.021],[43.81,0.003],[43.89,0.014],[43.97,0.001],[44.05,0.018],[44.13,0.006],
  [44.21,0.022],[44.29,0.001],[44.37,0.013],[44.45,0.004],[44.55,0.017],[44.64,0.002],[44.73,0.011],[44.83,0.001],
  [44.93,0.014],[45.03,0.003],[45.16,0.008],[45.3,0.001],
];
const WETNESS_FLOOR_CORE: Pt[] = [
  [38.62,0.016],[38.68,0.032],[38.72,0.001],[38.77,0.022],[38.81,0.041],[38.86,0.011],[38.9,0.028],[38.95,0.005],
  [38.99,0.018],[39.03,0.035],[39.05,0.013],[39.09,0.002],[39.12,0.029],[39.15,0.047],[39.19,0.017],[39.23,0.039],
  [39.27,0.004],[39.31,0.021],[39.35,0.052],[39.38,0.01],[39.42,0.031],[39.45,0.015],[39.49,0.003],[39.53,0.042],
  [39.56,0.024],[39.6,0.009],[39.63,0.034],[39.67,0.001],[39.7,0.027],[39.74,0.013],[39.77,0.045],[39.81,0.02],
  [39.84,0.005],[39.88,0.037],[39.91,0.016],[39.95,0.028],[39.98,0.002],[40.02,0.039],[40.05,0.019],[40.09,0.006],
  [40.12,0.026],[40.16,0.048],[40.19,0.012],[40.23,0.033],[40.26,0.001],[40.3,0.022],[40.33,0.041],[40.37,0.009],
  [40.4,0.03],[40.44,0.017],[40.47,0.002],[40.51,0.036],[40.54,0.014],[40.58,0.025],[40.61,0.044],[40.65,0.007],
  [40.68,0.031],[40.72,0.018],[40.75,0.001],[40.79,0.027],[40.82,0.039],[40.86,0.012],[40.89,0.021],[40.93,0.004],
  [40.96,0.034],[41.0,0.015],[41.03,0.042],[41.07,0.026],[41.1,0.007],[41.14,0.033],[41.17,0.012],[41.21,0.001],
  [41.24,0.038],[41.28,0.02],[41.31,0.046],[41.35,0.009],[41.38,0.029],[41.42,0.016],[41.45,0.002],[41.49,0.035],
  [41.52,0.011],[41.56,0.041],[41.59,0.024],[41.63,0.005],[41.66,0.031],[41.7,0.018],[41.73,0.001],[41.77,0.037],
  [41.8,0.014],[41.84,0.027],[41.87,0.049],[41.91,0.008],[41.94,0.022],[41.98,0.032],[42.01,0.004],[42.05,0.037],
  [42.08,0.019],[42.12,0.001],[42.15,0.028],[42.19,0.045],[42.22,0.011],[42.26,0.033],[42.29,0.006],[42.33,0.022],
  [42.36,0.04],[42.4,0.014],[42.43,0.002],[42.47,0.03],[42.5,0.017],[42.54,0.047],[42.57,0.008],[42.61,0.025],
  [42.64,0.036],[42.68,0.003],[42.71,0.019],[42.75,0.042],[42.78,0.011],[42.82,0.031],[42.85,0.001],[42.89,0.024],
  [42.92,0.038],[42.96,0.014],[43.0,0.005],[43.03,0.029],[43.07,0.043],[43.1,0.012],[43.14,0.021],[43.17,0.001],
  [43.21,0.035],[43.24,0.016],[43.28,0.046],[43.31,0.007],[43.35,0.026],[43.38,0.011],[43.42,0.039],[43.45,0.019],
  [43.49,0.002],[43.52,0.032],[43.56,0.013],[43.59,0.044],[43.63,0.022],[43.66,0.004],[43.7,0.035],[43.73,0.017],
  [43.77,0.027],[43.8,0.001],[43.84,0.038],[43.87,0.012],[43.91,0.023],[43.94,0.041],[43.98,0.007],[44.02,0.02],
  [44.06,0.036],[44.1,0.005],[44.14,0.015],[44.18,0.033],[44.22,0.001],[44.26,0.025],[44.3,0.042],[44.34,0.009],
  [44.38,0.029],[44.42,0.016],[44.46,0.001],[44.5,0.037],[44.55,0.013],[44.6,0.024],[44.65,0.004],[44.7,0.031],
  [44.76,0.011],[44.82,0.022],[44.88,0.002],[44.94,0.028],[45.0,0.009],
];
const WETNESS_FLOOR_UPPER: Pt[] = [
  [38.7,0.048],[38.85,0.056],[38.98,0.044],[39.1,0.062],[39.2,0.051],[39.28,0.068],[39.36,0.043],[39.44,0.058],
  [39.52,0.072],[39.6,0.047],[39.68,0.055],[39.76,0.039],[39.85,0.064],[39.93,0.05],[40.0,0.041],[40.08,0.057],
  [40.16,0.069],[40.24,0.046],[40.32,0.053],[40.4,0.061],[40.48,0.038],[40.56,0.049],[40.64,0.066],[40.72,0.052],
  [40.8,0.04],[40.88,0.059],[40.96,0.047],[41.04,0.054],[41.12,0.071],[41.2,0.043],[41.28,0.056],[41.36,0.05],
  [41.44,0.063],[41.52,0.039],[41.6,0.052],[41.68,0.045],[41.76,0.06],[41.84,0.067],[41.92,0.042],[42.0,0.055],
  [42.08,0.048],[42.16,0.061],[42.24,0.04],[42.32,0.053],[42.4,0.058],[42.48,0.046],[42.56,0.064],[42.64,0.051],
  [42.72,0.038],[42.8,0.057],[42.88,0.049],[42.96,0.062],[43.04,0.044],[43.12,0.055],[43.2,0.068],[43.28,0.041],
  [43.36,0.053],[43.44,0.047],[43.52,0.06],[43.6,0.039],[43.68,0.051],[43.76,0.056],[43.84,0.045],[43.92,0.062],
  [44.0,0.048],[44.1,0.054],[44.2,0.04],[44.3,0.058],[44.4,0.046],[44.5,0.052],[44.62,0.043],[44.74,0.057],
  [44.86,0.04],[44.98,0.049],[45.12,0.044],[45.26,0.052],[45.45,0.041],[45.7,0.047],
];
const WETNESS_HIGH: Pt[] = [
  [45.01,0.293],[44.51,0.17],[44.9,0.161],[44.43,0.147],[44.24,0.131],[44.29,0.116],[45.96,0.145],[46.46,0.122],
  [44.95,0.102],[45.37,0.106],[44.43,0.088],[44.99,0.091],[45.13,0.075],[45.51,0.081],[45.51,0.066],[47.61,0.09],
  [47.6,0.08],[49.25,0.08],[44.2,0.071],[44.67,0.066],[44.8,0.055],[45.12,0.058],[45.63,0.052],[45.86,0.049],
  [46.18,0.064],[46.1,0.049],[46.5,0.074],[46.53,0.058],[46.59,0.046],[46.92,0.067],[47.05,0.046],[47.4,0.052],
  [48.17,0.042],[46.36,0.032],[46.57,0.026],[46.69,0.019],[47.17,0.019],[47.53,0.023],[47.66,0.01],[48.04,0.023],
  [48.62,0.013],[49.04,0.016],[49.35,0.01],[49.75,0.006],[50.03,0.003],[46.83,0.003],[47.02,0.003],[47.4,0.005],
  [47.71,0.003],[47.91,0.003],[48.09,0.003],[48.34,0.005],[48.42,0.003],[48.75,0.006],[47.2,0.013],
];

const SERIES_POINTS: Pt[][] = [
  [...DRYNESS_LOW, ...DRYNESS_MID, ...DRYNESS_HIGH],
  [...GREENESS_LOW, ...GREENESS_MID, ...GREENESS_HIGH],
  [
    ...WETNESS_LOW, ...WETNESS_MID, ...WETNESS_FLOOR, ...WETNESS_FLOOR_DENSE,
    ...WETNESS_FLOOR_CORE, ...WETNESS_FLOOR_UPPER, ...WETNESS_HIGH,
  ],
];

// ── Layout (drawing units of the 4115 x 4875 page) ───────────────────────────
const W = 4115;
const H = 4875;
const FONT = "'Liberation Sans', Arial, Helvetica, sans-serif";
const FS = 46;
const BLUE = "#3366cc";

const PANELS = [
  { x0: 433, x1: 3464, yTop: 153.7, yBot: 1356.5, titleY: 66, dx: 0 },
  { x0: 433, x1: 3464, yTop: 1772, yBot: 2975.6, titleY: 1686, dx: 0 },
  { x0: 437.5, x1: 3469, yTop: 3405, yBot: 4606, titleY: 3318, dx: 5 },
];

function Panel({ idx }: { idx: number }) {
  const L = PANELS[idx];
  const name = SERIES[idx];
  const pts = SERIES_POINTS[idx];

  const x = d3.scaleLinear().domain([28, 52]).range([L.x0, L.x1]);
  const y = d3.scaleLinear().domain([0, 1]).range([L.yBot, L.yTop]);

  const minorX = x.ticks(24).filter((v) => !X_TICKS.includes(v));
  const minorY = y.ticks(20).filter((v) => Math.round(v * 100) % 10 !== 0);

  const f = (t: number) => TREND_SLOPE[idx] * t + TREND_INTERCEPT[idx];
  const trend = d3
    .line<number>()
    .x((t) => x(t))
    .y((t) => y(f(t)))([28, 52]);

  const clipId = `plot-clip-${idx}`;
  const lx = 3506 + L.dx;

  return (
    <g>
      <defs>
        <clipPath id={clipId}>
          <rect x={L.x0} y={L.yTop} width={L.x1 - L.x0} height={L.yBot - L.yTop} />
        </clipPath>
      </defs>

      {/* Title */}
      <text x={L.x0} y={L.titleY} fontFamily={FONT} fontSize={FS} fontWeight="bold" fill="#000">
        {`Correlation LST x ${name}`}
      </text>

      {/* Minor grid */}
      {minorX.map((v) => (
        <line key={`mx${v}`} x1={x(v)} x2={x(v)} y1={L.yTop} y2={L.yBot} stroke="#ebebeb" strokeWidth={3} />
      ))}
      {minorY.map((v) => (
        <line key={`my${v}`} x1={L.x0} x2={L.x1} y1={y(v)} y2={y(v)} stroke="#ebebeb" strokeWidth={3} />
      ))}

      {/* Major grid */}
      {X_TICKS.map((v) => (
        <line key={`gx${v}`} x1={x(v)} x2={x(v)} y1={L.yTop} y2={L.yBot} stroke="#cccccc" strokeWidth={3} />
      ))}
      {Y_TICKS.filter((v) => v > 0).map((v) => (
        <line key={`gy${v}`} x1={L.x0} x2={L.x1} y1={y(v)} y2={y(v)} stroke="#cccccc" strokeWidth={3} />
      ))}

      {/* Points */}
      <g clipPath={`url(#${clipId})`}>
        {pts.map(([t, v], i) => (
          <circle key={i} cx={x(t)} cy={y(v)} r={12} fill={BLUE} fillOpacity={0.3} />
        ))}
      </g>

      {/* Baseline */}
      <line x1={L.x0 - 1} x2={L.x1 + 1} y1={y(0)} y2={y(0)} stroke="#333333" strokeWidth={3.5} />

      {/* Trendline */}
      <path d={trend ?? ""} clipPath={`url(#${clipId})`} fill="none" stroke={BLUE} strokeWidth={5} />

      {/* Tick labels */}
      {X_TICKS.map((v) => (
        <text key={`tx${v}`} x={x(v)} y={L.yBot + 68} textAnchor="middle" fontFamily={FONT} fontSize={FS} fill="#444">
          {v}
        </text>
      ))}
      {Y_TICKS.map((v) => (
        <text key={`ty${v}`} x={L.x0 - 49} y={y(v) + 16.5} textAnchor="end" fontFamily={FONT} fontSize={FS} fill="#444">
          {v.toFixed(1)}
        </text>
      ))}

      {/* Axis titles */}
      <text
        x={(L.x0 + L.x1) / 2}
        y={L.yBot + 238}
        textAnchor="middle"
        fontFamily={FONT}
        fontSize={FS}
        fontStyle="italic"
        fill="#222"
      >
        LST (Celcius)
      </text>
      <text
        transform={`translate(37,${(L.yTop + L.yBot) / 2}) rotate(-90)`}
        textAnchor="middle"
        dominantBaseline="central"
        fontFamily={FONT}
        fontSize={FS}
        fontStyle="italic"
        fill="#222"
      >
        {name}
      </text>

      {/* Legend */}
      <line x1={lx} x2={lx + 93} y1={L.yTop + 20} y2={L.yTop + 20} stroke={BLUE} strokeOpacity={0.5} strokeWidth={4.5} />
      <circle cx={lx + 47} cy={L.yTop + 20} r={12} fill={BLUE} fillOpacity={0.3} />
      <text x={lx + 112} y={L.yTop + 35} fontFamily={FONT} fontSize={FS} fill="#222">
        {name}
      </text>
      <line x1={lx} x2={lx + 93} y1={L.yTop + 95} y2={L.yTop + 95} stroke={BLUE} strokeWidth={5} />
      {LEGEND_TEXT[idx].map((s, i) => (
        <text key={i} x={lx + 112} y={L.yTop + 110 + i * 62} fontFamily={FONT} fontSize={FS} fill="#222">
          {s}
        </text>
      ))}
    </g>
  );
}

// The drawing is laid out on a 4115 x 4875 grid and stretched to the visible
// window, so the whole figure always lands inside the photograph.
export default function App() {
  return (
    <div style={{ width: "100vw", height: "100vh", overflow: "hidden" }}>
      <style>{`html, body { margin: 0; padding: 0; overflow: hidden; background: #fff; }`}</style>
      <svg
        width="100%"
        height="100%"
        viewBox={`0 0 ${W} ${H}`}
        preserveAspectRatio="none"
        style={{ display: "block", background: "#fff" }}
      >
        <rect x={0} y={0} width={W} height={H} fill="#fff" />
        {SERIES.map((_, i) => (
          <Panel key={i} idx={i} />
        ))}
        <text x={4092} y={4830} textAnchor="end" fontFamily={FONT} fontSize={74} fill="#cccccc">
          CSDN @@HNUSTer_CUMTBer
        </text>
      </svg>
    </div>
  );
}
